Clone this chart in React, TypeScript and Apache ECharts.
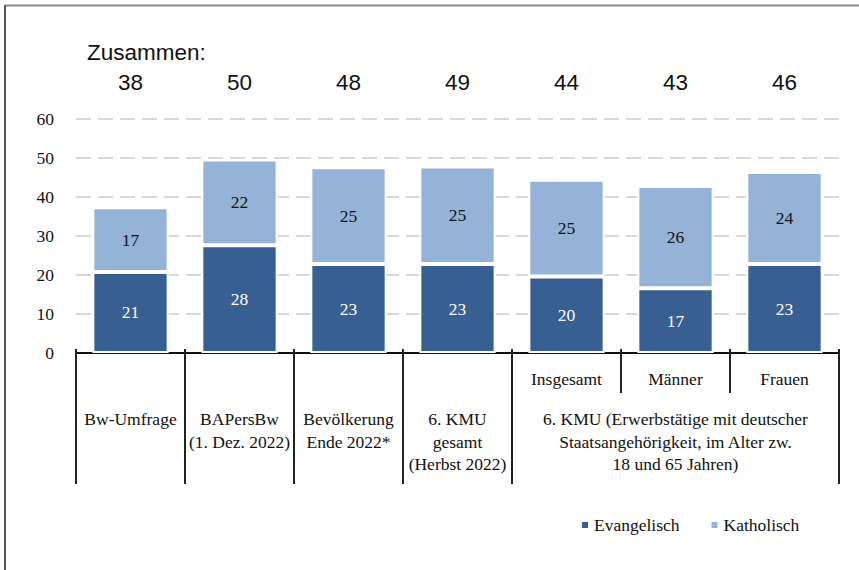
import React, { useEffect, useRef } from "react";
import * as echarts from "echarts";

const categories = [
  "Bw-Umfrage",
  "BAPersBw\n(1. Dez. 2022)",
  "Bevölkerung\nEnde 2022*",
  "6. KMU\ngesamt\n(Herbst 2022)",
  "Insgesamt",
  "Männer",
  "Frauen",
];
const evangelisch = [20.8, 27.6, 22.8, 22.8, 19.6, 16.6, 22.8];
const katholisch = [16.6, 22.0, 24.8, 25.0, 24.8, 26.2, 23.6];
const totals = ["38", "50", "48", "49", "44", "43", "46"];
const totalsTitle = "Zusammen:";
const groupLabel = "6. KMU (Erwerbstätige mit deutscher\nStaatsangehörigkeit, im Alter zw.\n18 und 65 Jahren)";
const groupStart = 4;
const seriesNames = ["Evangelisch", "Katholisch"];

const SERIF = "Liberation Serif";
const SANS = "Liberation Sans";
const DARK = "#375f92";
const LIGHT = "#95b3d7";
const FS = 17.5;

export default function App() {
  const ref = useRef<HTMLDivElement>(null);
  useEffect(() => {
    if (!ref.current) return;
    const chart = echarts.init(ref.current, null, { renderer: "svg" });
    const labelStyle = (color: string) => ({
      show: true,
      position: "inside",
      color,
      fontFamily: SERIF,
      fontSize: FS,
      formatter: (p: any) => String(Math.round(p.value)),
    });
    chart.setOption({
      animation: false,
      backgroundColor: "#fff",
      textStyle: { fontFamily: SERIF },
      grid: { left: 76, right: 20, top: 119, bottom: 217, containLabel: false },
      legend: {
        data: seriesNames,
        left: 575,
        top: 511,
        icon: "rect",
        itemWidth: 8,
        itemHeight: 8,
        itemGap: 30,
        textStyle: { fontFamily: SERIF, fontSize: FS, color: "#111" },
      },
      xAxis: {
        type: "category",
        data: categories,
        axisLine: { show: true, lineStyle: { color: "#111", width: 2 } },
        axisTick: { show: false },
        axisLabel: { show: false },
        splitLine: { show: false },
      },
      yAxis: {
        type: "value",
        min: 0,
        max: 60,
        interval: 10,
        axisLine: { show: false },
        axisTick: { show: false },
        axisLabel: { fontFamily: SERIF, fontSize: FS, color: "#111", margin: 22 },
        splitLine: { lineStyle: { color: "#d9d9d9", width: 2, type: [15, 7] } },
      },
      series: [
        {
          name: seriesNames[0],
          type: "bar",
          stack: "total",
          data: evangelisch,
          barWidth: "70%",
          itemStyle: { color: DARK, borderColor: "#fff", borderWidth: 2 },
          label: labelStyle("#fff"),
        },
        {
          name: seriesNames[1],
          type: "bar",
          stack: "total",
          data: katholisch,
          barWidth: "70%",
          itemStyle: { color: LIGHT, borderColor: "#fff", borderWidth: 2 },
          label: labelStyle("#111"),
        },
      ],
    });

    const px = (i: number) => chart.convertToPixel({ xAxisIndex: 0 }, i) as number;
    const py = (v: number) => chart.convertToPixel({ yAxisIndex: 0 }, v) as number;
    const band = px(1) - px(0);
    const y0 = py(0);
    const left0 = px(0) - band / 2;
    const n = categories.length;

    const txt = (text: string, x: number, y: number, extra: any = {}) => ({
      type: "text",
      style: {
        text,
        x,
        y,
        fill: "#111",
        fontFamily: SERIF,
        fontSize: FS,
        lineHeight: 22.5,
        align: "center",
        textAlign: "center",
        verticalAlign: "top",
        textVerticalAlign: "top",
        ...extra,
      },
      z: 10,
    });

    const elements: any[] = [];
    // frame
    elements.push({ type: "line", shape: { x1: 5, y1: 5.5, x2: 859, y2: 5.5 }, style: { stroke: "#8c8c8c", lineWidth: 2 } });
    elements.push({ type: "line", shape: { x1: 5, y1: 5, x2: 5, y2: 570 }, style: { stroke: "#555", lineWidth: 2 } });
    // totals
    elements.push(
      txt(totalsTitle, 87, 52, { fontFamily: SANS, fontSize: 22.5, align: "left", textAlign: "left", verticalAlign: "middle", textVerticalAlign: "middle" })
    );
    totals.forEach((t, i) => {
      elements.push(txt(t, px(i), 82, { fontFamily: SANS, fontSize: 22.5, verticalAlign: "middle", textVerticalAlign: "middle" }));
    });
    // separator ticks
    for (let b = 0; b <= n; b++) {
      const bx = left0 + b * band;
      const short = b > groupStart && b < n;
      elements.push({
        type: "line",
        shape: { x1: bx, y1: y0 - 4, x2: bx, y2: short ? y0 + 40 : y0 + 131 },
        style: { stroke: "#222", lineWidth: 2 },
        z: 10,
      });
    }
    // category labels
    categories.forEach((c, i) => {
      if (i < groupStart) {
        elements.push(txt(c, px(i), y0 + 55));
      } else {
        elements.push(txt(c, px(i), y0 + 26, { verticalAlign: "middle", textVerticalAlign: "middle", lineHeight: 20 }));
      }
    });
    const gx = (left0 + groupStart * band + left0 + n * band) / 2;
    elements.push(txt(groupLabel, gx, y0 + 55));

    chart.setOption({ graphic: { elements } });

    return () => chart.dispose();
  }, []);
  return (
    <div
      ref={ref}
      style={{ position: "absolute", left: 0, top: 0, width: 859, height: 570, background: "#fff" }}
    />
  );
}
